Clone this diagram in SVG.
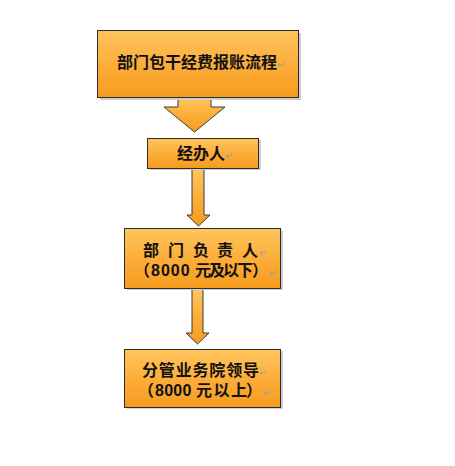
<svg xmlns="http://www.w3.org/2000/svg" width="455" height="466" viewBox="0 0 455 466">
<defs>
<linearGradient id="og" x1="0" y1="0" x2="0" y2="1">
<stop offset="0" stop-color="#FFC55E"/>
<stop offset="0.5" stop-color="#FCAE3A"/>
<stop offset="1" stop-color="#F59B1E"/>
</linearGradient>
<style>
.box{fill:url(#og);stroke:#2b2b2b;stroke-width:1}
.sh{fill:#cfcfcf}
.arr{fill:url(#og);stroke:#3a3a3a;stroke-width:1;stroke-linejoin:miter}
.t{font-family:"Liberation Sans","Noto Sans CJK SC",sans-serif;font-weight:bold;font-size:16px;fill:#111}
.r{font-family:"Liberation Sans","Noto Sans CJK SC",sans-serif;font-size:10px;fill:#a0a0a0}
</style>
</defs>
<rect width="455" height="466" fill="#ffffff"/>
<g id="connectors">
<polygon class="arr" points="178,98 211,98 211,107 225,107 194.5,132 164,107 178,107"/>
<polygon class="arr" points="192,169 204,169 204,215 210,215 198.5,226 187,215 192,215"/>
<polygon class="arr" points="192,289 203,289 203,333 209,333 197.5,344 186,333 192,333"/>
</g>
<g id="node-title">
<rect class="sh" x="100" y="33" width="201" height="67"/>
<rect class="box" x="97.5" y="30.5" width="201" height="67"/>
<text class="t" x="117" y="68" textLength="160">部门包干经费报账流程</text>
<text class="r" x="277" y="68">↵</text>
</g>
<g id="node-handler">
<rect class="sh" x="150" y="140" width="111" height="30"/>
<rect class="box" x="147.5" y="138.5" width="111" height="30"/>
<text class="t" x="177" y="159">经办人</text>
<text class="r" x="225" y="159">↵</text>
</g>
<g id="node-dept">
<rect class="sh" x="127" y="230" width="156" height="60"/>
<rect class="box" x="124.5" y="228.5" width="156" height="60"/>
<text class="t" y="256"><tspan x="143">部</tspan><tspan x="168">门</tspan><tspan x="193">负</tspan><tspan x="217">责</tspan><tspan x="242">人</tspan></text>
<text class="r" x="259" y="256">↵</text>
<text class="t" y="276"><tspan x="134">（</tspan><tspan x="151" textLength="44">8000 </tspan><tspan x="195" textLength="58">元及以下</tspan><tspan x="252">）</tspan></text>
<text class="r" x="269" y="276">↵</text>
</g>
<g id="node-leader">
<rect class="sh" x="127" y="351" width="156" height="58"/>
<rect class="box" x="124.5" y="349.5" width="156" height="58"/>
<text class="t" x="142" y="376" textLength="117">分管业务院领导</text>
<text class="r" x="259" y="376">↵</text>
<text class="t" y="396"><tspan x="138">（</tspan><tspan x="155" textLength="41">8000 </tspan><tspan x="196" textLength="51">元以上</tspan><tspan x="246">）</tspan></text>
<text class="r" x="263" y="396">↵</text>
</g>
</svg>
